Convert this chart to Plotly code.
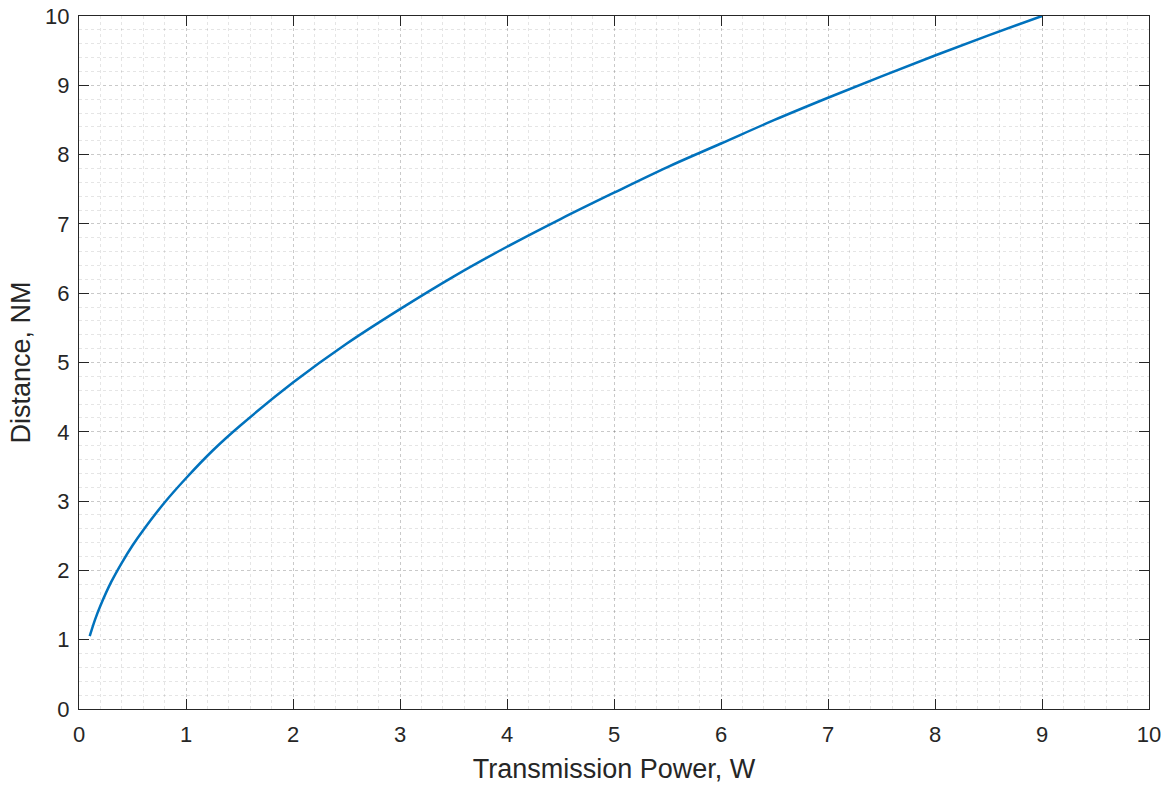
import plotly.graph_objects as go

power_w = [0.1, 0.15, 0.2, 0.3, 0.4, 0.5, 0.6, 0.8, 1.0, 1.25, 1.5, 2.0, 2.5, 3.0, 3.5,
           4.0, 4.5, 5.0, 5.5, 6.0, 6.5, 7.0, 7.5, 8.0, 8.5, 9.0]
distance_nm = [1.05, 1.29, 1.49, 1.83, 2.11, 2.36, 2.58, 2.98, 3.33, 3.73, 4.08, 4.71, 5.27,
               5.77, 6.24, 6.67, 7.07, 7.45, 7.82, 8.16, 8.50, 8.82, 9.13, 9.43, 9.72, 10.0]
tick_vals = list(range(0, 11))

FONT = "Liberation Sans, Arial, Helvetica"

fig = go.Figure()
fig.add_trace(go.Scatter(x=power_w, y=distance_nm, mode="lines", line_shape="spline",
                         line=dict(color="#0072BD", width=2.5), showlegend=False))

axis_common = dict(
    range=[0, 10], tickvals=tick_vals, ticks="inside", ticklen=10, tickwidth=1,
    tickcolor="#262626", showline=True, linecolor="#262626", linewidth=1, mirror="ticks",
    showgrid=True, gridcolor="rgba(0,0,0,0.12)", griddash="dot", gridwidth=1,
    zeroline=False, automargin=False, tickfont=dict(family=FONT, size=22, color="#262626"),
    minor=dict(dtick=0.2, showgrid=True, gridcolor="rgba(0,0,0,0.10)", griddash="dot",
               gridwidth=1, ticks=""),
)

fig.update_xaxes(title=dict(text="Transmission Power, W", standoff=12,
                            font=dict(family=FONT, size=27, color="#262626")),
                 ticklabelstandoff=6, **axis_common)
fig.update_yaxes(title=dict(text="Distance, NM", standoff=6,
                            font=dict(family=FONT, size=27, color="#262626")),
                 ticklabelstandoff=4, **axis_common)

fig.update_layout(width=1171, height=788, margin=dict(l=79, r=22, t=16, b=79),
                  plot_bgcolor="white", paper_bgcolor="white")
fig.write_html("out.html")
